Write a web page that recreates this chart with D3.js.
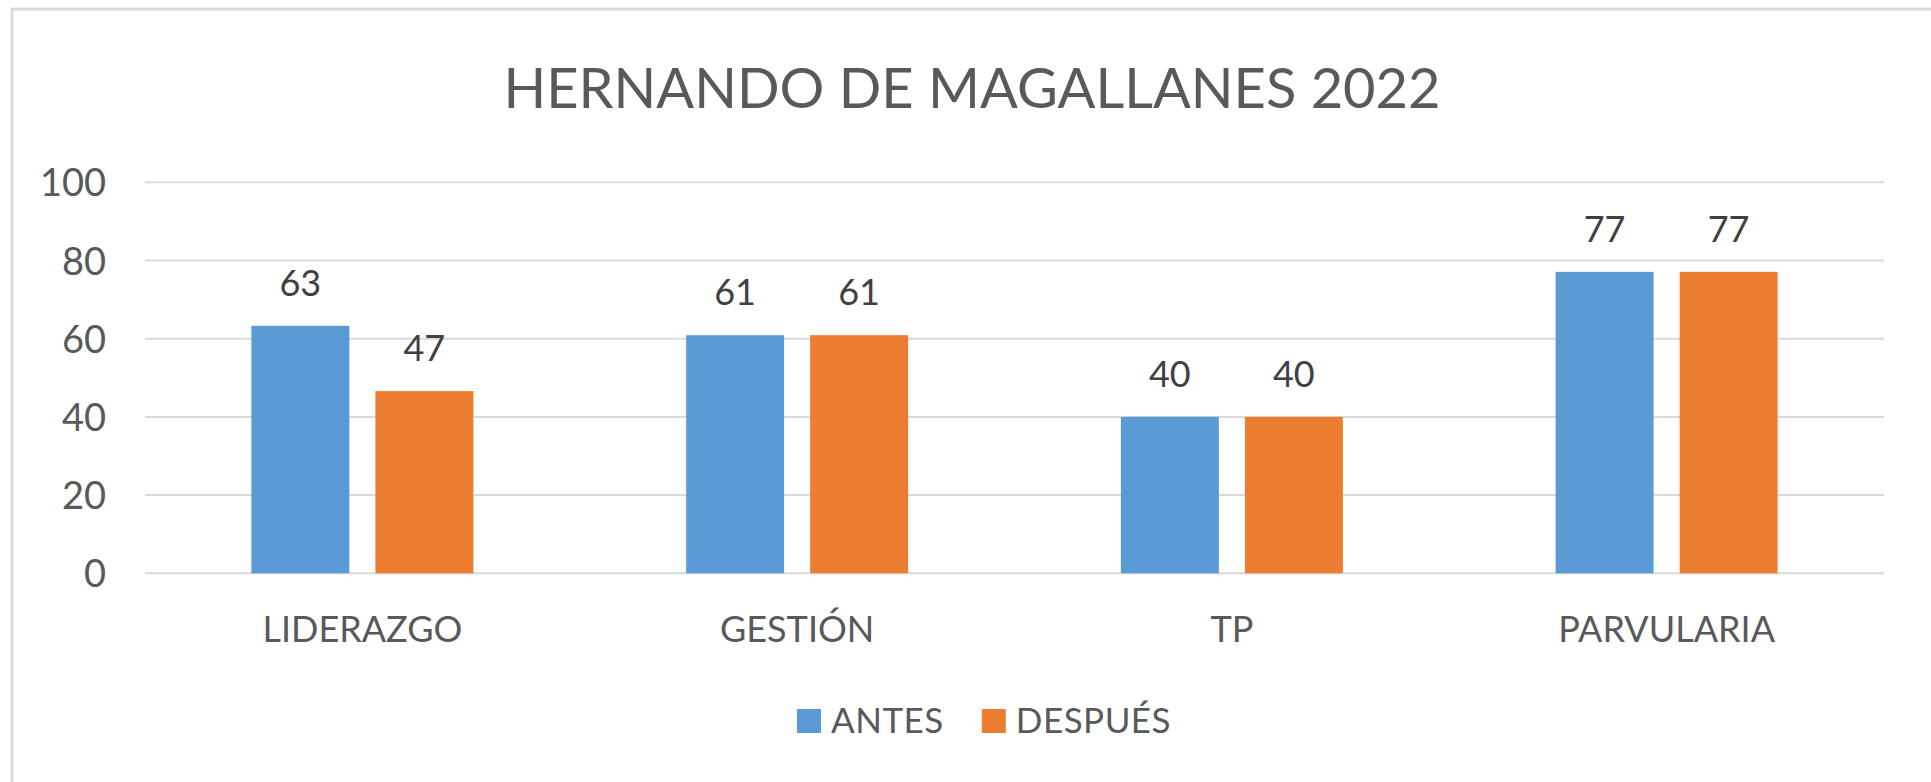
<!DOCTYPE html>
<html>
<head>
<meta charset="utf-8">
<script src="https://cdn.jsdelivr.net/npm/d3@7"></script>
<style>
  html, body { margin: 0; padding: 0; background: #fff; }
  svg { display: block; font-family: Lato, "Open Sans", sans-serif; }
</style>
</head>
<body>
<svg width="1931" height="782"></svg>
<script>
const title      = "HERNANDO DE MAGALLANES 2022";
const categories = ["LIDERAZGO", "GESTIÓN", "TP", "PARVULARIA"];
const seriesNames = ["ANTES", "DESPUÉS"];
const antes      = [63.3, 60.9, 40, 77.1];
const despues    = [46.6, 60.9, 40, 77.1];
const yTicks     = [0, 20, 40, 60, 80, 100];
const colors     = ["#5B9BD5", "#ED7D31"];

const svg = d3.select("svg");

// marco del gráfico (solo se ven borde izquierdo y superior)
svg.append("path")
    .attr("d", "M12,782 L12,9 L1931,9")
    .attr("fill", "none")
    .attr("stroke", "#D9D9D9")
    .attr("stroke-width", 3);

const y = d3.scaleLinear().domain([0, 100]).range([573.3, 182.3]);

const x0 = d3.scaleBand()
    .domain(categories)
    .range([145, 1884])
    .paddingInner(0.4894)
    .paddingOuter(0.4894 / 2);

const x1 = d3.scaleBand()
    .domain(seriesNames)
    .range([0, x0.bandwidth()])
    .paddingInner(0.21);

// titulo
svg.append("text")
    .attr("x", 972)
    .attr("y", 108)
    .attr("text-anchor", "middle")
    .attr("fill", "#595959")
    .style("font-size", "56px")
    .text(title);

// lineas de la grilla
svg.append("g")
    .selectAll("line")
    .data(yTicks)
    .join("line")
    .attr("x1", 145)
    .attr("x2", 1884)
    .attr("y1", d => y(d))
    .attr("y2", d => y(d))
    .attr("stroke", "#D9D9D9")
    .attr("stroke-width", 2);

const yAxis = d3.axisLeft(y).tickValues(yTicks).tickSize(0).tickPadding(0);
const ga = svg.append("g")
    .attr("transform", "translate(106,0)")
    .call(yAxis);
ga.select(".domain").remove();
ga.selectAll("text")
    .attr("fill", "#595959")
    .attr("dy", "0.36em")
    .style("font-size", "38px")
    .style("font-family", "Lato, 'Open Sans', sans-serif");

const rows = categories.map((c, i) => ({ cat: c, vals: [antes[i], despues[i]] }));

const groups = svg.append("g")
    .selectAll("g")
    .data(rows)
    .join("g")
    .attr("transform", d => `translate(${x0(d.cat)},0)`);

groups.selectAll("rect")
    .data(d => d.vals.map((v, i) => ({ name: seriesNames[i], v: v, i: i })))
    .join("rect")
    .attr("x", d => x1(d.name))
    .attr("width", x1.bandwidth())
    .attr("y", d => y(d.v))
    .attr("height", d => y(0) - y(d.v))
    .attr("fill", d => colors[d.i]);

groups.selectAll("text")
    .data(d => d.vals.map((v, i) => ({ name: seriesNames[i], v: v })))
    .join("text")
    .attr("x", d => x1(d.name) + x1.bandwidth() / 2)
    .attr("y", d => y(d.v) - 30)
    .attr("text-anchor", "middle")
    .attr("fill", "#404040")
    .style("font-size", "36px")
    .text(d => d3.format(".0f")(d.v));

// etiquetas de categoria
const xAxis = d3.axisBottom(x0).tickSize(0).tickPadding(0);
const gx = svg.append("g")
    .attr("transform", "translate(0,642)")
    .call(xAxis);
gx.select(".domain").remove();
gx.selectAll("text")
    .attr("dy", 0)
    .attr("fill", "#595959")
    .style("font-size", "36px")
    .style("font-family", "Lato, 'Open Sans', sans-serif");

// leyenda
const legend = svg.append("g").attr("transform", "translate(797,0)");
let off = 0;
seriesNames.forEach((s, i) => {
    const g = legend.append("g").attr("transform", `translate(${off},0)`);
    g.append("rect")
        .attr("x", 0).attr("y", 709)
        .attr("width", 24).attr("height", 24)
        .attr("fill", colors[i]);
    const t = g.append("text")
        .attr("x", 34).attr("y", 733)
        .attr("fill", "#595959")
        .style("font-size", "35px")
        .style("letter-spacing", "0.5px")
        .text(s);
    off += 34 + t.node().getComputedTextLength() + 38;
});
</script>
</body>
</html>
